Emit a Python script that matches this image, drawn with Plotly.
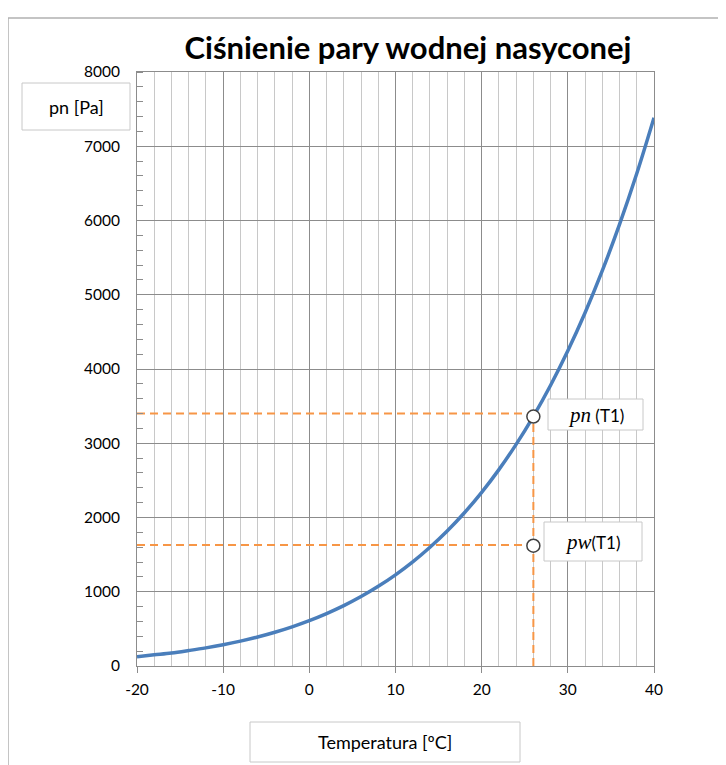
import plotly.graph_objects as go

# Data
temperature = [-20, -18, -16, -14, -12, -10, -8, -6, -4, -2, 0, 2, 4, 6, 8, 10, 12, 14, 16, 18,
               20, 22, 24, 26, 28, 30, 32, 34, 36, 38, 40]
pressure = [125, 150, 175, 208, 244, 286, 335, 391, 455, 528, 611, 706, 813, 935, 1073, 1228,
            1402, 1599, 1818, 2064, 2339, 2645, 2985, 3363, 3782, 4246, 4758, 5324, 5947, 6632, 7384]

T1 = 26
pn_T1 = 3360
pw_T1 = 1620
pn_line = 3400
pw_line = 1630

title = "Ciśnienie pary wodnej nasyconej"
y_title = "pn [Pa]"
x_title = "Temperatura [ºC]"
x_ticks = [-20, -10, 0, 10, 20, 30, 40]
x_labels = ["-20", "-10", "0", "10", "20", "30", "40"]
y_ticks = [0, 1000, 2000, 3000, 4000, 5000, 6000, 7000, 8000]

FONT = "Lato, Open Sans, sans-serif"
ORANGE = "#f79646"

fig = go.Figure()

# dashed guide lines
for xs, ys in (([-20, T1], [pn_line, pn_line]), ([-20, T1], [pw_line, pw_line]), ([T1, T1], [0, pn_line])):
    fig.add_trace(go.Scatter(x=xs, y=ys, mode="lines",
                             line=dict(color=ORANGE, width=2, dash="8px,5px"), hoverinfo="skip"))

# curve
fig.add_trace(go.Scatter(x=temperature, y=pressure, mode="lines", line_shape="spline",
                         line=dict(color="#4a7ebb", width=3.5)))

# markers
fig.add_trace(go.Scatter(x=[T1, T1], y=[pn_T1, pw_T1], mode="markers",
                         marker=dict(size=13, color="white", line=dict(color="#404040", width=1.5))))

# page has an 8px body margin; page coords -> figure coords
OFF = 8
W, H = 726 - OFF, 765 - OFF
L, T = 137 - OFF, 72 - OFF
R = W - (654 - OFF)
B = H - (666 - OFF)
pw_, ph_ = W - L - R, H - T - B


def px(xp):
    return (xp - OFF - L) / pw_


def py(yp):
    return (H - B - (yp - OFF)) / ph_


fig.update_layout(
    width=W, height=H, showlegend=False,
    margin=dict(l=L, r=R, t=T, b=B),
    paper_bgcolor="white", plot_bgcolor="white",
    font=dict(family=FONT, size=15, color="black"),
    title=dict(text=f"<b>{title}</b>", x=(408 - OFF) / W, xref="container", xanchor="center",
               y=1 - (48 - OFF) / H, yref="container", yanchor="middle",
               font=dict(size=31, family=FONT, color="black")),
    xaxis=dict(range=[-20, 40], tickvals=x_ticks, ticktext=x_labels, showgrid=True,
               gridcolor="#8c8c8c", gridwidth=1,
               showline=True, linecolor="#8c8c8c", mirror=True, ticks="outside", ticklen=6,
               tickcolor="#8c8c8c", zeroline=False, ticklabelstandoff=3,
               minor=dict(dtick=2, showgrid=True, gridcolor="#c8c8c8", gridwidth=1, ticks=""),
               tickfont=dict(size=15.5, family=FONT)),
    yaxis=dict(range=[0, 8000], tickvals=y_ticks, showgrid=True, gridcolor="#8c8c8c", gridwidth=1,
               showline=True, linecolor="#8c8c8c", mirror=True, ticks="", zeroline=False,
               ticklabelstandoff=13,
               minor=dict(dtick=200, ticks="inside", ticklen=6, tickcolor="#8c8c8c", showgrid=False),
               tickfont=dict(size=15.5, family=FONT)),
)

# outer chart border (left and top)
fig.add_shape(type="line", xref="paper", yref="paper", x0=px(8), x1=px(8), y0=py(18), y1=py(H + 20),
              line=dict(color="#b0b0b0", width=1.5))
fig.add_shape(type="line", xref="paper", yref="paper", x0=px(8), x1=px(W + 20), y0=py(18), y1=py(18),
              line=dict(color="#b0b0b0", width=1.5))


def box(x0, y0, x1, y1, text, size):
    fig.add_shape(type="rect", xref="paper", yref="paper", x0=px(x0), x1=px(x1), y0=py(y1), y1=py(y0),
                  line=dict(color="#c8c8c8", width=1), fillcolor="white", layer="above")
    fig.add_annotation(xref="paper", yref="paper", x=px((x0 + x1) / 2), y=py((y0 + y1) / 2),
                       text=text, showarrow=False, xanchor="center", yanchor="middle",
                       font=dict(size=size, family=FONT, color="black"))


box(22, 83, 130, 130, y_title, 18)
box(250, 722, 520, 762, x_title, 18)
box(548, 399, 643, 430,
    "<span style='font-family:Liberation Serif;font-size:21px'><i>pn</i></span> (T1)", 17)
box(544, 522, 642, 561,
    "<span style='font-family:Liberation Serif;font-size:21px'><i>pw</i></span>(T1)", 17)

fig.write_html("out.html")
